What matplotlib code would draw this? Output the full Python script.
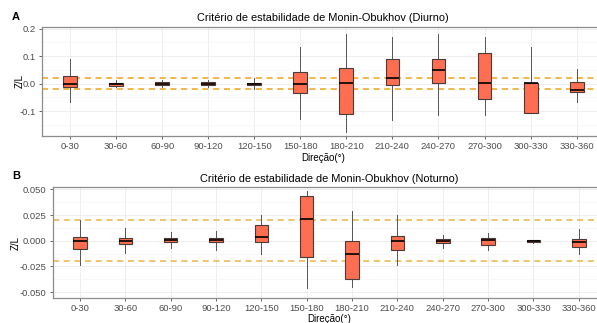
import numpy as np
import matplotlib
matplotlib.use("Agg")
import matplotlib.pyplot as plt
from matplotlib.ticker import FormatStrFormatter, MultipleLocator

plt.rcParams['font.family'] = ['Liberation Sans', 'DejaVu Sans']

# categorias de direção do vento
direcoes = ['0-30', '30-60', '60-90', '90-120', '120-150', '150-180',
            '180-210', '210-240', '240-270', '270-300', '300-330', '330-360']

# Diurno (painel A) - estatísticas
dia_min = [-0.065, -0.012, -0.012, -0.012, -0.020, -0.130, -0.177, -0.131, -0.115, -0.115, -0.108, -0.065]
dia_q1  = [-0.012, -0.007, -0.006, -0.005, -0.006, -0.033, -0.109, -0.003, 0.002, -0.054, -0.108, -0.031]
dia_med = [-0.001, -0.002, 0.000, 0.000, -0.001, 0.000, 0.004, 0.019, 0.051, 0.004, 0.001, -0.022]
dia_q3  = [0.028, 0.003, 0.006, 0.005, 0.004, 0.041, 0.058, 0.090, 0.090, 0.112, 0.001, 0.005]
dia_max = [0.091, 0.012, 0.015, 0.013, 0.020, 0.132, 0.179, 0.169, 0.179, 0.169, 0.132, 0.053]

# Noturno (painel B)
noite_min = [-0.0237, -0.0120, -0.0068, -0.0087, -0.0126, -0.0457, -0.0454, -0.0237, -0.0071, -0.0094, -0.0023, -0.0133]
noite_q1  = [-0.0084, -0.0030, -0.0013, -0.0016, -0.0010, -0.0162, -0.0376, -0.0094, -0.0019, -0.0039, -0.0013, -0.0062]
noite_med = [-0.0003, 0.0000, 0.0010, 0.0003, 0.0036, 0.0210, -0.0133, -0.0006, 0.0000, 0.0003, -0.0003, -0.0010]
noite_q3  = [0.0036, 0.0030, 0.0030, 0.0030, 0.0152, 0.0440, -0.0006, 0.0045, 0.0016, 0.0023, 0.0003, 0.0016]
noite_max = [0.0200, 0.0126, 0.0080, 0.0097, 0.0253, 0.0480, 0.0288, 0.0253, 0.0052, 0.0071, 0.0010, 0.0110]

limiar = 0.02  # linhas tracejadas +-0.02


def desenhar(ax, vmin, q1, med, q3, vmax, titulo, ylim, major, minor, fmt, cor_limiar):
    stats = []
    for i in range(len(direcoes)):
        stats.append(dict(med=med[i], q1=q1[i], q3=q3[i],
                          whislo=vmin[i], whishi=vmax[i], fliers=[]))
    pos = np.arange(len(direcoes))
    # tracejadas por baixo das caixas
    ax.axhline(limiar, color=cor_limiar, linestyle=(0, (4, 3)), linewidth=1.1, zorder=1)
    ax.axhline(-limiar, color=cor_limiar, linestyle=(0, (4, 3)), linewidth=1.1, zorder=1)
    ax.bxp(stats, positions=pos, widths=0.3, showcaps=False, showfliers=False,
           patch_artist=True,
           boxprops=dict(facecolor='#FF6E50', edgecolor='#4a3a3a', linewidth=0.8, zorder=3),
           medianprops=dict(color='black', linewidth=1.2, zorder=4),
           whiskerprops=dict(color='#555555', linewidth=0.7, zorder=2))

    ax.set_xlim(-0.6, len(direcoes) - 0.4)
    ax.set_ylim(*ylim)
    ax.set_xticks(pos)
    ax.set_xticklabels(direcoes)
    ax.yaxis.set_major_locator(MultipleLocator(major))
    ax.yaxis.set_minor_locator(MultipleLocator(minor))
    ax.yaxis.set_major_formatter(FormatStrFormatter(fmt))
    ax.xaxis.grid(True, color='#EBEBEB', linewidth=0.6, zorder=0)
    ax.yaxis.grid(True, which='major', color='#EBEBEB', linewidth=0.6, zorder=0)
    ax.yaxis.grid(True, which='minor', color='#F5F5F5', linewidth=0.5, zorder=0)
    ax.set_axisbelow(True)
    ax.tick_params(axis='both', which='major', labelsize=6.8, colors='#4d4d4d',
                   length=2.5, width=0.6, pad=2)
    ax.tick_params(axis='y', which='minor', length=0)
    for s in ax.spines.values():
        s.set_color('#8c8c8c')
        s.set_linewidth(0.9)
    ax.set_title(titulo, fontsize=7.9, pad=4)
    ax.set_xlabel('Direção(°)', fontsize=7, labelpad=1)
    ax.set_ylabel('Z/L', fontsize=7)


fig = plt.figure(figsize=(5.97, 3.23), dpi=100)

axA = fig.add_axes([0.0710, 0.5789, 0.9412, 0.3384])
desenhar(axA, dia_min, dia_q1, dia_med, dia_q3, dia_max,
         'Critério de estabilidade de Monin-Obukhov (Diurno)',
         (-0.19, 0.207), 0.1, 0.05, '%.1f', '#F0A31A')
axA.yaxis.set_label_coords(-0.032, 0.5)

axB = fig.add_axes([0.0884, 0.0783, 0.9266, 0.3418])
desenhar(axB, noite_min, noite_q1, noite_med, noite_q3, noite_max,
         'Critério de estabilidade de Monin-Obukhov (Noturno)',
         (-0.0555, 0.052), 0.025, 0.0125, '%.3f', '#EDB445')
axB.yaxis.set_label_coords(-0.057, 0.5)

fig.text(12 / 597, 1 - 17 / 323, 'A', fontsize=8, fontweight='bold', va='center')
fig.text(12 / 597, 1 - 176 / 323, 'B', fontsize=8, fontweight='bold', va='center')

fig.savefig('out.png', dpi=100)
